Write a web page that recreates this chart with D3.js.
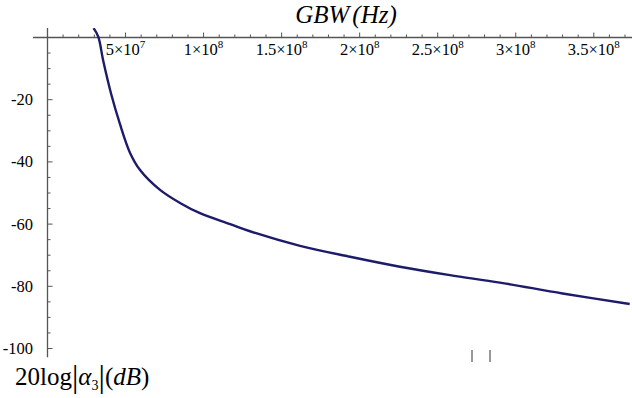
<!DOCTYPE html>
<html>
<head>
<meta charset="utf-8">
<script src="https://cdn.jsdelivr.net/npm/d3@7"></script>
<style>
  html, body { margin: 0; padding: 0; background: #fff; }
  svg { display: block; }
</style>
</head>
<body>
<svg id="chart" width="632" height="398" font-family="Liberation Serif, DejaVu Serif, serif"></svg>
<script>
// GBW in Hz, response in dB
const gbwHz = [2.95e7, 3.25e7, 3.57e7, 4.07e7, 4.64e7, 5.29e7, 5.93e7, 7.21e7, 8.49e7, 9.77e7,
               11.7e7, 12.97e7, 16.18e7, 19.38e7, 22.58e7, 25.78e7, 28.98e7, 33e7, 37.3e7];
const alphaDb = [3, 0.3, -7.5, -18, -27.8, -37.1, -42.6, -49, -53.2, -56.5,
                 -60.0, -62.3, -67, -70.5, -73.7, -76.4, -78.8, -82.3, -85.7];

const xMajorTicks = [5e7, 1e8, 1.5e8, 2e8, 2.5e8, 3e8, 3.5e8];
const xTickMant = ["5", "1", "1.5", "2", "2.5", "3", "3.5"];
const xTickExp = ["7", "8", "8", "8", "8", "8", "8"];
const yMajorTicks = [-20, -40, -60, -80, -100];
const yTickLabels = ["-20", "-40", "-60", "-80", "-100"];

const svg = d3.select("#chart");
const x = d3.scaleLinear().domain([0, 3.5e8]).range([47.5, 593.8]);
const y = d3.scaleLinear().domain([0, -100]).range([37.5, 348.5]);

const xMin = -0.93e7, xMax = 3.76e8, yTop = 3.05, yBot = -102.8;
const axisColor = "#555";

// minor ticks
const xMinor = d3.range(1e7, 3.71e8, 1e7);
svg.append("g").selectAll("line").data(xMinor).join("line")
  .attr("x1", d => x(d)).attr("x2", d => x(d))
  .attr("y1", y(0)).attr("y2", d => y(0) - (xMajorTicks.some(t => Math.abs(t - d) < 1) ? 5 : 3))
  .attr("stroke", axisColor).attr("stroke-width", 1);
const yMinor = d3.range(-5, -101, -5);
svg.append("g").selectAll("line").data(yMinor).join("line")
  .attr("y1", d => y(d)).attr("y2", d => y(d))
  .attr("x1", x(0)).attr("x2", d => x(0) + (d % 20 === 0 ? 5 : 3))
  .attr("stroke", axisColor).attr("stroke-width", 1);

// axes lines
svg.append("line").attr("x1", x(xMin)).attr("x2", x(xMax)).attr("y1", y(0)).attr("y2", y(0))
  .attr("stroke", axisColor).attr("stroke-width", 1.3);
svg.append("line").attr("x1", x(0)).attr("x2", x(0)).attr("y1", y(yTop)).attr("y2", y(yBot))
  .attr("stroke", axisColor).attr("stroke-width", 1.3);

// x tick labels
const xl = svg.append("g").selectAll("text").data(xMajorTicks).join("text")
  .attr("x", d => x(d)).attr("y", 55).attr("text-anchor", "middle")
  .attr("font-size", 16.5);
xl.append("tspan").text((d, i) => xTickMant[i] + "\u00d710");
xl.append("tspan").attr("dy", -7).attr("font-size", 11).text((d, i) => xTickExp[i]);

// y tick labels
svg.append("g").selectAll("text").data(yMajorTicks).join("text")
  .attr("x", 33).attr("y", d => y(d) + 5.5).attr("text-anchor", "end")
  .attr("font-size", 16.5).text((d, i) => yTickLabels[i]);

// curve
svg.append("defs").append("clipPath").attr("id", "clip").append("rect")
  .attr("x", x(0)).attr("y", y(yTop)).attr("width", x(xMax) - x(0)).attr("height", y(yBot) - y(yTop));
const pts = gbwHz.map((g, i) => [g, alphaDb[i]]);
svg.append("path").datum(pts)
  .attr("clip-path", "url(#clip)")
  .attr("fill", "none").attr("stroke", "#1c1c6a").attr("stroke-width", 2.4)
  .attr("d", d3.line().x(d => x(d[0])).y(d => y(d[1])).curve(d3.curveCatmullRom.alpha(0.5)));

// axis titles
const xt = svg.append("text").attr("x", 346).attr("y", 23).attr("text-anchor", "middle")
  .attr("font-size", 25).attr("font-style", "italic");
xt.append("tspan").text("GBW");
xt.append("tspan").attr("dx", 3).text("(Hz)");

const yt = svg.append("text").attr("x", 15).attr("y", 385).attr("font-size", 25);
yt.append("tspan").text("20log");
yt.append("tspan").attr("font-size", 32).attr("dy", 2).text("|");
yt.append("tspan").attr("font-style", "italic").attr("dy", -2).text("\u03b1");
yt.append("tspan").attr("dy", 5).attr("font-size", 14).text("3");
yt.append("tspan").attr("dy", -3).attr("font-size", 32).text("|");
yt.append("tspan").attr("dy", -2).text("(");
yt.append("tspan").attr("font-style", "italic").text("dB");
yt.append("tspan").text(")");

// small stray marks visible below the plot in the source image
svg.append("g").selectAll("line").data([472, 490]).join("line")
  .attr("x1", d => d).attr("x2", d => d).attr("y1", 350).attr("y2", 362)
  .attr("stroke", "#333").attr("stroke-width", 1);
</script>
</body>
</html>
